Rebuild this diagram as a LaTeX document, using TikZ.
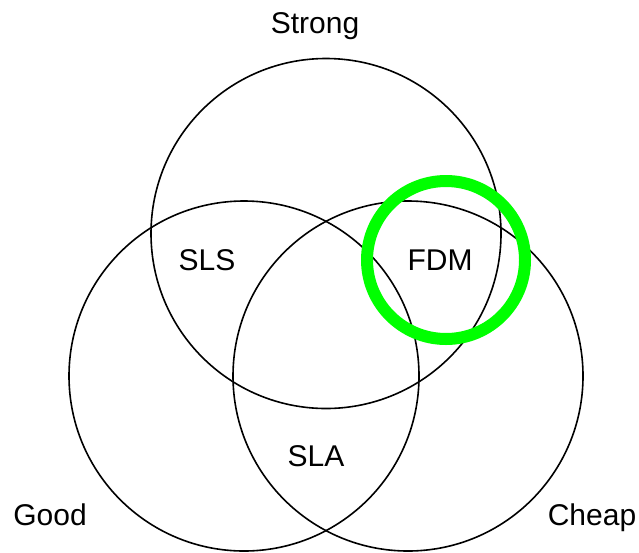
\documentclass[tikz,border=0pt]{standalone}
\usepackage{fontspec}
\setmainfont{Liberation Sans}
\definecolor{pickgreen}{HTML}{00FF00}
\usepackage{tikz}

\begin{document}
\begin{tikzpicture}[x=1pt,y=-1pt,
  ring/.style={draw=black,line width=1.6pt},
  pick/.style={draw=pickgreen,line width=12pt},
  lab/.style={font=\fontsize{30}{36}\selectfont,anchor=base,inner sep=0pt}]
\useasboundingbox (0,0) rectangle (639,552);
\coordinate (cs) at (326,233.5);
\coordinate (cg) at (244,376);
\coordinate (cc) at (408,376);
\draw[ring] (cs) circle[radius=175];
\draw[ring] (cg) circle[radius=175];
\draw[ring] (cc) circle[radius=175];
\draw[pick] (446,260) circle[radius=79];
\node[lab] (strong) at (315,33) {Strong};
\node[lab] (good) at (50,525) {Good};
\node[lab] (cheap) at (592,525) {Cheap};
\node[lab] (sls) at (207,270) {SLS};
\node[lab] (fdm) at (440,270.5) {FDM};
\node[lab] (sla) at (316,466.5) {SLA};
\end{tikzpicture}
\end{document}
